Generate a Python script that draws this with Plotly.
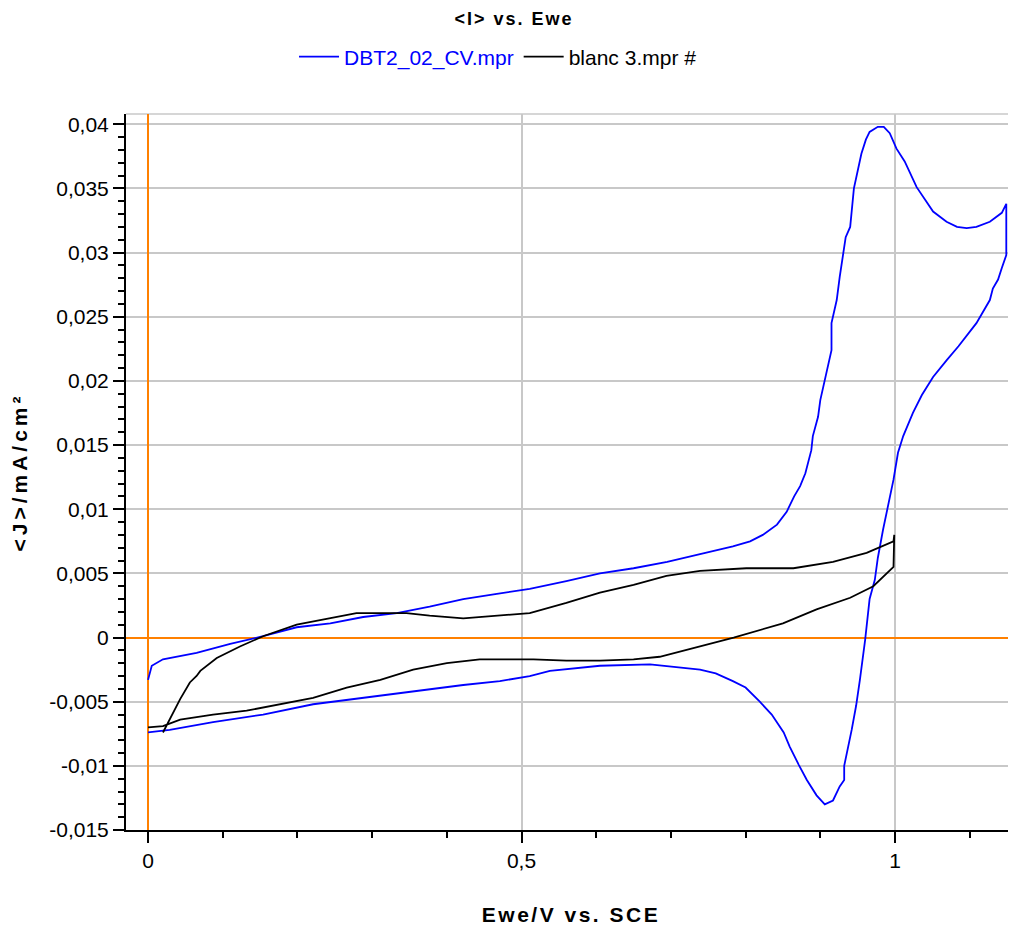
import plotly.graph_objects as go

# ---- data ----
cv_E = [0.000, 0.005, 0.020, 0.065, 0.110, 0.154, 0.199, 0.244, 0.288, 0.333,
        0.377, 0.422, 0.467, 0.511, 0.560, 0.605, 0.650, 0.695, 0.739, 0.783,
        0.806, 0.823, 0.842, 0.855, 0.865, 0.873, 0.880, 0.888, 0.890, 0.897,
        0.900, 0.908, 0.915, 0.915, 0.922, 0.926, 0.934, 0.940, 0.945, 0.955,
        0.961, 0.966, 0.977, 0.985, 0.993, 1.002, 1.013, 1.029, 1.051, 1.069,
        1.083, 1.096, 1.109, 1.127, 1.143, 1.149,
        1.149, 1.143, 1.138, 1.131, 1.127, 1.109, 1.085, 1.069, 1.051, 1.036,
        1.024, 1.011, 1.004, 0.998, 0.991, 0.984, 0.977, 0.973, 0.966, 0.960,
        0.953, 0.948, 0.942, 0.932, 0.932, 0.926, 0.917, 0.906, 0.895, 0.882,
        0.871, 0.859, 0.851, 0.835, 0.819, 0.800, 0.783, 0.760, 0.739, 0.672,
        0.605, 0.538, 0.511, 0.471, 0.422, 0.355, 0.288, 0.221, 0.154, 0.087,
        0.029, 0.000]
cv_J = [-0.0033, -0.0022, -0.0017, -0.0012, -0.0005, 0.0001, 0.0008, 0.0011, 0.0016, 0.0019,
        0.0024, 0.0030, 0.0034, 0.0038, 0.0044, 0.0050, 0.0054, 0.0059, 0.0065, 0.0071,
        0.0075, 0.0080, 0.0088, 0.0098, 0.0110, 0.0118, 0.0128, 0.0146, 0.0157, 0.0172,
        0.0185, 0.0205, 0.0224, 0.0245, 0.0263, 0.0281, 0.0312, 0.0320, 0.0350, 0.0377,
        0.0388, 0.0394, 0.0398, 0.0398, 0.0393, 0.0381, 0.0371, 0.0351, 0.0332, 0.0324,
        0.0320, 0.0319, 0.0320, 0.0324, 0.0331, 0.0338,
        0.0298, 0.0288, 0.0279, 0.0272, 0.0263, 0.0245, 0.0227, 0.0216, 0.0203, 0.0189,
        0.0175, 0.0157, 0.0144, 0.0123, 0.0104, 0.0084, 0.0062, 0.0045, 0.0030, -0.0002,
        -0.0033, -0.0053, -0.0072, -0.0100, -0.0111, -0.0116, -0.0127, -0.0130, -0.0123, -0.0111,
        -0.0099, -0.0085, -0.0074, -0.0060, -0.0050, -0.0039, -0.0034, -0.0028, -0.0025, -0.0021,
        -0.0022, -0.0026, -0.0030, -0.0034, -0.0037, -0.0042, -0.0047, -0.0052, -0.0060, -0.0066,
        -0.0072, -0.0074]

blank_E = [0.020, 0.027, 0.034, 0.043, 0.056, 0.065, 0.070, 0.092, 0.123, 0.154,
           0.199, 0.244, 0.279, 0.346, 0.377, 0.422, 0.467, 0.511, 0.560, 0.605,
           0.650, 0.694, 0.739, 0.801, 0.864, 0.917, 0.962, 0.998, 0.999,
           0.999, 0.998, 0.971, 0.940, 0.895, 0.850, 0.784, 0.739, 0.685, 0.650,
           0.605, 0.560, 0.516, 0.471, 0.444, 0.400, 0.355, 0.311, 0.266, 0.221,
           0.177, 0.132, 0.087, 0.043, 0.020, 0.000]
blank_J = [-0.0074, -0.0066, -0.0059, -0.0048, -0.0035, -0.0030, -0.0026, -0.0016, -0.0007, 0.0001,
           0.0010, 0.0015, 0.0019, 0.0019, 0.0017, 0.0015, 0.0017, 0.0019, 0.0027, 0.0035,
           0.0041, 0.0048, 0.0052, 0.0054, 0.0054, 0.0059, 0.0066, 0.0075, 0.0080,
           0.0057, 0.0055, 0.0040, 0.0031, 0.0022, 0.0011, 0.0000, -0.0007, -0.0015, -0.0017,
           -0.0018, -0.0018, -0.0017, -0.0017, -0.0017, -0.0020, -0.0025, -0.0033, -0.0039, -0.0047,
           -0.0052, -0.0057, -0.0060, -0.0064, -0.0069, -0.0070]

x_tickvals = [0, 0.5, 1]
x_ticktext = ["0", "0,5", "1"]
y_tickvals = [-0.015, -0.01, -0.005, 0, 0.005, 0.01, 0.015, 0.02, 0.025, 0.03, 0.035, 0.04]
y_ticktext = ["-0,015", "-0,01", "-0,005", "0", "0,005", "0,01", "0,015", "0,02",
              "0,025", "0,03", "0,035", "0,04"]

FONT = "Liberation Sans, Arial, sans-serif"
OFF = 8  # page body margin in the browser
W, H = 1016 - OFF, 936 - OFF

fig = go.Figure()
fig.add_trace(go.Scatter(
    x=cv_E, y=cv_J, mode="lines",
    name="<span style='color:#0000FF'>DBT2_02_CV.mpr</span>",
    line=dict(color="#0000FF", width=1.8)))
fig.add_trace(go.Scatter(
    x=blank_E, y=blank_J, mode="lines",
    name="blanc 3.mpr #",
    line=dict(color="#000000", width=1.8)))

fig.update_layout(
    width=W, height=H,
    margin=dict(l=126 - OFF, r=0, t=114 - OFF, b=936 - 830, autoexpand=False),
    paper_bgcolor="white", plot_bgcolor="white",
    font=dict(family=FONT, size=21, color="black"),
    title=dict(text="<span style='letter-spacing:2px'><b>&lt;I&gt; vs. Ewe</b></span>",
               x=(514 - OFF) / W, xanchor="center",
               y=1 - (19 - OFF) / H, yanchor="middle", yref="container",
               font=dict(size=18, family=FONT, color="black")),
    legend=dict(orientation="h", x=0.418, xanchor="center", y=1.0796, yanchor="middle",
                font=dict(size=21, family=FONT, color="black"),
                bgcolor="rgba(0,0,0,0)", itemwidth=40, tracegroupgap=0),
    showlegend=True,
    shapes=[dict(type="line", xref="paper", yref="paper", x0=0, x1=1, y0=1, y1=1,
                 line=dict(color="#C8C8C8", width=1.5), layer="below")],
)

fig.update_xaxes(
    range=[-0.0295, 1.162], automargin=False,
    tickvals=x_tickvals, ticktext=x_ticktext,
    ticks="outside", ticklen=11, tickwidth=2, tickcolor="black",
    minor=dict(dtick=0.1, tick0=0, ticks="outside", ticklen=6, tickwidth=1.5,
               tickcolor="black", showgrid=False),
    showline=True, linecolor="black", linewidth=2,
    showgrid=True, gridcolor="#C8C8C8", gridwidth=1.5,
    zeroline=True, zerolinecolor="#FF8000", zerolinewidth=2,
    tickfont=dict(size=21, family=FONT),
    title=dict(text="<span style='letter-spacing:2.5px'><b>Ewe/V vs. SCE</b></span>", standoff=36,
               font=dict(size=21, family=FONT)),
)
fig.update_yaxes(
    range=[-0.015, 0.0408], automargin=False,
    tickvals=y_tickvals, ticktext=y_ticktext,
    ticks="outside", ticklen=11, tickwidth=2, tickcolor="black",
    minor=dict(dtick=0.001, tick0=0, ticks="outside", ticklen=6, tickwidth=1.5,
               tickcolor="black", showgrid=False),
    showline=True, linecolor="black", linewidth=2,
    showgrid=True, gridcolor="#C8C8C8", gridwidth=1.5,
    zeroline=True, zerolinecolor="#FF8000", zerolinewidth=2,
    tickfont=dict(size=21, family=FONT),
    title=dict(text="<span style='letter-spacing:4px'><b>&lt;J&gt;/mA/cm²</b></span>", standoff=16,
               font=dict(size=21, family=FONT)),
)

fig.write_html("out.html")
